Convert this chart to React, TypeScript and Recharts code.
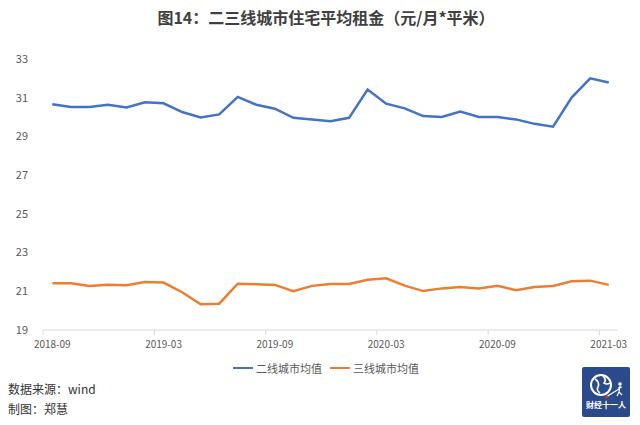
import { Line, LineChart, XAxis, YAxis } from "recharts";

const MONTHS = [
  "2018-09", "2018-10", "2018-11", "2018-12",
  "2019-01", "2019-02", "2019-03", "2019-04", "2019-05", "2019-06",
  "2019-07", "2019-08", "2019-09", "2019-10", "2019-11", "2019-12",
  "2020-01", "2020-02", "2020-03", "2020-04", "2020-05", "2020-06",
  "2020-07", "2020-08", "2020-09", "2020-10", "2020-11", "2020-12",
  "2021-01", "2021-02", "2021-03",
];

// 二线城市均值（元/月*平米）
const TIER2 = [
  30.66, 30.52, 30.52, 30.64, 30.5, 30.76, 30.71, 30.26, 29.98, 30.14,
  31.04, 30.64, 30.43, 29.96, 29.88, 29.78, 29.96, 31.42, 30.69, 30.45,
  30.05, 30.0, 30.29, 30.0, 30.0, 29.88, 29.65, 29.5, 31.01, 32.0, 31.79,
];

// 三线城市均值（元/月*平米）
const TIER3 = [
  21.41, 21.41, 21.27, 21.34, 21.31, 21.48, 21.45, 20.95, 20.33, 20.36,
  21.39, 21.36, 21.33, 21.0, 21.28, 21.38, 21.38, 21.6, 21.67, 21.29,
  21.01, 21.15, 21.22, 21.15, 21.29, 21.05, 21.22, 21.27, 21.52, 21.55,
  21.33,
];

const Y_TICKS = [19, 21, 23, 25, 27, 29, 31, 33];

const SERIES = [
  { key: "tier2", name: "二线城市均值", color: "#4472C4" },
  { key: "tier3", name: "三线城市均值", color: "#ED7D31" },
];

const FONT = '"Noto Sans CJK SC", "Noto Sans", sans-serif';
const AXIS_GRAY = "#D9D9D9";
const LABEL_GRAY = "#595959";

const PLOT_LEFT = 43;
const PLOT_RIGHT = 618;
const HALF_BAND = (PLOT_RIGHT - PLOT_LEFT) / MONTHS.length / 2;

const data = MONTHS.map((m, i) => ({ month: m, tier2: TIER2[i], tier3: TIER3[i] }));

// label sits under the point, tick mark on the category's left edge
function MonthTick(props: any) {
  const { x, y, payload } = props;
  const edge = x - HALF_BAND;
  return (
    <g>
      <line x1={edge} y1={y} x2={edge} y2={y + 5} stroke={AXIS_GRAY} strokeWidth={1} />
      <text
        x={x}
        y={y + 13}
        textAnchor="middle"
        dominantBaseline="central"
        fontSize={10}
        fill={LABEL_GRAY}
        fontFamily={FONT}
      >
        {payload.value}
      </text>
    </g>
  );
}

export default function App() {
  return (
    <div
      style={{
        position: "absolute",
        left: 0,
        top: 0,
        width: 640,
        height: 425,
        background: "#fff",
        fontFamily: FONT,
        overflow: "hidden",
      }}
    >
      <div
        style={{
          position: "absolute",
          top: 6,
          left: 0,
          width: 652,
          textAlign: "center",
          fontSize: 16,
          fontWeight: 700,
          color: "#404040",
          lineHeight: "22px",
        }}
      >
        图14：二三线城市住宅平均租金（元/月*平米）
      </div>

      <LineChart
        width={640}
        height={360}
        data={data}
        margin={{ top: 59, right: 640 - PLOT_RIGHT, bottom: 10, left: 0 }}
        style={{ position: "absolute", left: 0, top: 0 }}
      >
        <XAxis
          dataKey="month"
          interval={5}
          padding={{ left: HALF_BAND, right: HALF_BAND }}
          axisLine={{ stroke: AXIS_GRAY }}
          tickLine={false}
          tickSize={0}
          tickMargin={0}
          height={20}
          tick={<MonthTick />}
        />
        <YAxis
          domain={[19, 33]}
          ticks={Y_TICKS}
          width={PLOT_LEFT}
          axisLine={false}
          tickLine={false}
          tickSize={0}
          tickMargin={15}
          tick={{ fontSize: 11, fill: LABEL_GRAY, fontFamily: FONT }}
        />
        {SERIES.map((s) => (
          <Line
            key={s.key}
            type="linear"
            dataKey={s.key}
            name={s.name}
            stroke={s.color}
            strokeWidth={2.5}
            dot={false}
            isAnimationActive={false}
          />
        ))}
      </LineChart>

      <div
        style={{
          position: "absolute",
          top: 360,
          left: 233,
          display: "flex",
          alignItems: "center",
          fontSize: 11,
          color: LABEL_GRAY,
          lineHeight: "16px",
        }}
      >
        {SERIES.map((s, i) => (
          <div key={s.key} style={{ display: "flex", alignItems: "center", marginLeft: i ? 8 : 0 }}>
            <span style={{ display: "inline-block", width: 20, height: 2.5, background: s.color, marginRight: 3 }} />
            <span>{s.name}</span>
          </div>
        ))}
      </div>

      <div style={{ position: "absolute", left: 8, top: 379, fontSize: 12, color: "#333", lineHeight: "20px" }}>
        <div>数据来源：wind</div>
        <div>制图：郑慧</div>
      </div>

      <div
        style={{
          position: "absolute",
          left: 582,
          top: 367,
          width: 48,
          height: 50,
          background: "#2B4A8B",
          borderRadius: 2,
        }}
      >
        <svg width={48} height={50} style={{ position: "absolute", left: 0, top: 0 }}>
          <circle cx={19} cy={18} r={10} fill="none" stroke="#fff" strokeWidth={2} />
          <path d="M13 12 q5 3 3 8 q-2 3 2 6 M21 9 q4 4 1 7 q3 2 6 0" fill="none" stroke="#fff" strokeWidth={1.6} />
          <path d="M24 30 L37 22" stroke="#fff" strokeWidth={1.2} />
          <circle cx={38} cy={17} r={1.8} fill="#fff" />
          <path d="M38 19 L37 25 M36 21 L40 20 M37 25 L35 29 M37 25 L40 28" stroke="#fff" strokeWidth={1.2} />
          <circle cx={25} cy={30} r={1.6} fill="#C0392B" />
        </svg>
        <div
          style={{
            position: "absolute",
            left: 0,
            top: 33,
            width: 48,
            textAlign: "center",
            fontSize: 8,
            fontWeight: 700,
            color: "#fff",
            lineHeight: "10px",
          }}
        >
          财经十一人
        </div>
      </div>
    </div>
  );
}
